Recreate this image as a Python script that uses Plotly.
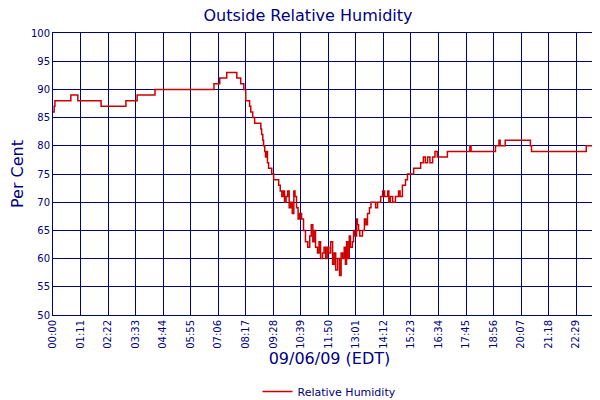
import plotly.graph_objects as go

# minutes since midnight and relative humidity (%)
minutes = [0, 3, 5, 46, 64, 124, 188, 217, 219, 263, 415, 430, 448, 474, 484, 492,
           497, 507, 510, 515, 520, 536, 538, 541, 543, 546, 548, 551, 553, 556, 564,
           569, 574, 582, 586, 590, 594, 597, 601, 605, 609, 613, 617, 621, 624, 628,
           632, 636, 641, 646, 651, 657, 662, 666, 670, 673, 677, 682, 686, 690, 695,
           699, 703, 707, 711, 716, 721, 725, 729, 734, 739, 743, 747, 751, 754, 757,
           760, 764, 767, 772, 775, 778, 783, 785, 788, 791, 798, 803, 807, 811, 816,
           820, 827, 832, 837, 845, 850, 855, 863, 866, 870, 876, 883, 891, 895, 901,
           909, 914, 919, 930, 940, 948, 955, 960, 966, 972, 979, 985, 991, 1017,
           1075, 1078, 1141, 1150, 1153, 1166, 1231, 1234, 1313, 1375, 1393, 1398, 1425]
humidity = [86, 87, 88, 89, 88, 87, 88, 89, 89, 90, 91, 92, 93, 92, 91, 90,
            88, 87, 86, 85, 84, 83, 82, 81, 80, 79, 78, 79, 77, 76, 75,
            74, 74, 73, 72, 71, 72, 70, 71, 72, 69, 70, 68, 72, 71, 69,
            67, 68, 67, 65, 63, 62, 64, 66, 63, 65, 62, 61, 63, 60, 61,
            62, 60, 62, 61, 63, 59, 61, 58, 60, 57, 61, 60, 62, 59, 63,
            60, 64, 62, 63, 65, 64, 67, 66, 65, 64, 65, 67, 66, 68, 69,
            70, 70, 69, 70, 71, 72, 71, 72, 70, 71, 70, 71, 72, 71, 73,
            74, 75, 75, 76, 76, 77, 78, 77, 78, 77, 78, 79, 78, 79,
            80, 79, 80, 81, 80, 81, 80, 79, 79, 80, 79, 80, 79]

tick_vals = [i * 71 for i in range(21)] + [1422]
tick_text = ["%02d:%02d" % (v // 60, v % 60) for v in tick_vals]
navy = "#000080"

fig = go.Figure()
fig.add_trace(go.Scatter(x=minutes, y=humidity, mode="lines", line_shape="hv",
                         name="Relative Humidity", line=dict(color="#cc0000", width=1.5)))
fig.update_layout(
    width=600, height=400, template=None,
    paper_bgcolor="white", plot_bgcolor="white",
    font=dict(family="DejaVu Sans", color=navy, size=10),
    title=dict(text="Outside Relative Humidity", x=0.5, y=0.995, yanchor="top",
               font=dict(size=16, color=navy)),
    margin=dict(l=45, r=2, t=25, b=81),
    showlegend=True,
    legend=dict(orientation="h", x=0.5, xanchor="center", y=-0.22, yanchor="top",
                font=dict(size=11, color=navy)),
    xaxis=dict(range=[0, 1426], tickvals=tick_vals, ticktext=tick_text, tickangle=-90,
               showgrid=True, gridcolor=navy, gridwidth=1, showline=True, linecolor=navy,
               mirror=True, zeroline=False, ticks="", automargin=False,
               title=dict(text="09/06/09 (EDT)", font=dict(size=16, color=navy), standoff=4)),
    yaxis=dict(range=[50, 100], dtick=5, showgrid=True, gridcolor=navy, gridwidth=1,
               showline=True, linecolor=navy, mirror=True, zeroline=False, ticks="",
               automargin=False,
               title=dict(text="Per Cent", font=dict(size=16, color=navy), standoff=4)),
)
fig.write_html("out.html")
